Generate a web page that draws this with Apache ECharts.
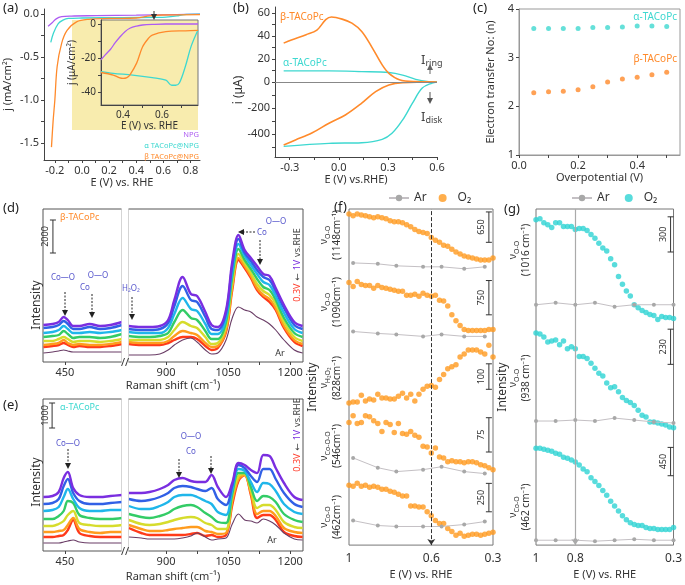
<!DOCTYPE html>
<html><head><meta charset="utf-8">
<script src="https://cdn.jsdelivr.net/npm/echarts@6.0.0/dist/echarts.min.js"></script>
<style>html,body{margin:0;padding:0;background:#fff;}#chart{width:685px;height:585px;}</style>
</head><body><div id="chart"></div>
<script>
// ================= DATA =================
// (a) LSV main
const aNPG   = [[-0.25,-0.14],[-0.22,-0.1],[-0.19,-0.055],[-0.15,-0.03],[-0.08,-0.022],[0.1,-0.018],[0.4,-0.012],[0.7,-0.005],[0.87,0]];
const aAlpha = [[-0.23,-0.33],[-0.21,-0.22],[-0.175,-0.11],[-0.14,-0.07],[-0.1,-0.05],[0,-0.045],[0.3,-0.04],[0.55,-0.038],[0.62,-0.035],[0.7,-0.02],[0.75,-0.005],[0.87,0]];
const aBeta  = [[-0.225,-1.55],[-0.213,-1.25],[-0.2,-1.0],[-0.183,-0.61],[-0.15,-0.34],[-0.11,-0.19],[-0.04,-0.09],[0.05,-0.06],[0.2,-0.05],[0.4,-0.045],[0.5,-0.02],[0.6,-0.01],[0.87,-0.005]];
// (a) inset
const aInNPG   = [[0.287,-21],[0.31,-18],[0.335,-15],[0.36,-11],[0.385,-7.5],[0.41,-4.5],[0.435,-2.5],[0.47,-1.2],[0.5,-0.6],[0.56,-0.2],[0.62,0],[0.785,0]];
const aInAlpha = [[0.287,-28],[0.35,-29],[0.45,-30],[0.55,-31.5],[0.62,-33],[0.65,-36],[0.67,-36],[0.69,-34.5],[0.72,-25],[0.75,-13],[0.785,-3.5]];
const aInBeta  = [[0.287,-28.5],[0.35,-30],[0.38,-31.5],[0.4,-32],[0.42,-31.5],[0.435,-30],[0.47,-23],[0.5,-13.5],[0.53,-8.5],[0.55,-6.5],[0.62,-4.5],[0.72,-4],[0.785,-3.8]];
// (b) RRDE
const bRingBeta  = [[-0.337,33.7],[-0.29,36.5],[-0.2,41],[-0.134,45],[-0.08,54],[-0.045,56.3],[0.02,54.5],[0.08,51],[0.14,43.8],[0.2,30.7],[0.265,14.8],[0.306,7.5],[0.37,2],[0.47,0.3],[0.6,0]];
const bRingAlpha = [[-0.337,9.6],[-0.06,9.6],[0.14,9],[0.306,8.2],[0.39,6],[0.47,2.3],[0.55,0.3],[0.6,0]];
const bDiskBeta  = [[-0.337,-485],[-0.265,-446],[-0.165,-393],[-0.06,-317],[0.04,-254],[0.14,-163],[0.225,-74],[0.306,-23],[0.39,-5],[0.6,0]];
const bDiskAlpha = [[-0.337,-495],[-0.06,-472],[0.14,-467],[0.265,-441],[0.325,-395],[0.39,-292],[0.45,-163],[0.51,-47],[0.57,-8],[0.6,0]];
// (c) electron transfer number
const cX     = [0.05,0.10,0.15,0.20,0.25,0.30,0.35,0.40,0.45,0.50];
const cAlpha = [3.6,3.6,3.6,3.6,3.62,3.62,3.63,3.65,3.65,3.64];
const cBeta  = [2.28,2.3,2.31,2.34,2.4,2.5,2.56,2.6,2.65,2.7];
// (d),(e) Raman shift samples
const ramanL = [398,420,435,447,457,470,485,510,535,560,588];
const ramanR = [810,840,860,885,905,920,940,960,975,995,1010,1025,1045,1060,1075,1090,1105,1120,1135,1150,1165,1185,1210,1230];
// (d) beta-TACoPc spectra, 1V (top) -> 0.3V (bottom)
const dLeft = [
 [37,38,40,45,42,36,36,38,36,37,40],
 [34,35,37,41,38,33,33,35,33,34,37],
 [29,30,32,36,33,29,29,30,29,30,32],
 [25,26,27,31,28,24,25,25,24,25,28],
 [21,21,23,25,23,20,21,21,20,21,23],
 [17,18,19,22,19,17,18,17,17,18,20],
 [15,16,17,19,17,15,16,15,15,16,18]];
const dRight = [
 [36,35,35,36,42,62,85,68,66,50,37,35,52,100,127,112,104,96,88,86,74,57,40,36],
 [33,32,32,33,39,56,76,62,60,45,33,32,49,96,123,109,101,92,85,82,71,54,37,33],
 [30,29,29,29,34,48,64,53,51,38,28,28,44,90,118,106,97,88,80,77,66,49,33,29],
 [26,25,25,26,29,40,52,44,42,31,23,23,40,85,113,102,93,83,75,72,62,44,29,25],
 [22,22,22,22,25,32,40,36,34,25,18,19,36,79,108,99,89,78,71,67,58,40,25,21],
 [20,19,19,19,21,26,31,29,27,19,15,16,32,75,104,96,86,74,67,63,54,36,22,18],
 [18,17,17,17,19,22,25,25,23,16,12,14,30,72,102,94,84,72,65,60,52,34,20,16]];
const dArL = [9,10,11,12,11,10,10,10,10,10,10];
const dArR = [7,7,7,8,12,17,22,24,20,12,8,9,22,44,55,52,50,45,42,38,32,22,12,9];
// (e) alpha-TACoPc spectra
const eLeft = [
 [54,55,59,73,79,63,56,54,54,55,56],
 [47,48,52,65,72,58,50,47,47,48,49],
 [40,41,44,54,62,52,43,40,40,41,41],
 [32,32,35,40,50,48,36,33,32,32,33],
 [25,25,27,30,36,40,28,26,25,25,26],
 [19,19,20,21,26,33,22,19,18,19,19],
 [14,14,15,16,21,31,18,15,14,14,14]];
const eRight = [
 [58,58,59,62,66,71,73,70,69,69,76,64,54,68,88,86,81,78,96,95,83,68,54,51],
 [52,50,51,54,58,63,65,64,62,60,63,52,46,65,86,83,75,69,82,82,72,58,47,44],
 [45,42,42,45,49,54,56,56,54,50,47,39,36,61,82,80,69,59,68,67,60,47,39,37],
 [37,34,33,35,38,42,45,46,44,38,34,29,28,57,78,78,64,50,55,54,49,37,31,29],
 [31,27,26,27,29,31,33,34,33,28,26,22,22,54,75,77,61,43,46,46,41,29,24,23],
 [26,22,20,20,21,22,23,24,24,20,19,17,18,50,72,76,58,37,40,40,35,23,19,18],
 [23,18,16,16,16,16,16,17,18,15,16,14,16,46,70,76,56,33,36,36,31,19,15,14]];
const eArL = [8,8,8,9,10,11,9,8,8,8,8];
const eArR = [14,13,12,12,12,12,13,15,18,14,11,12,13,27,37,31,30,28,32,30,26,18,12,11];
// (f),(g) potentials
const P36 = [1.00,0.98,0.96,0.94,0.92,0.90,0.88,0.86,0.84,0.82,0.80,0.78,0.76,0.74,0.72,0.70,0.68,0.66,0.64,0.62,0.60,0.58,0.56,0.54,0.52,0.50,0.48,0.46,0.44,0.42,0.40,0.38,0.36,0.34,0.32,0.30];
const fArP = [0.98,0.86,0.77,0.64,0.55,0.44,0.34];
const gArP = [1.0,0.9,0.8,0.7,0.6,0.5,0.4,0.3];
// (f) beta-TACoPc band intensities (stacked rows)
const fRow1 = [338,336,338,337,336,335,334,335,334,333,331,330,330,329,327,325,322,320,319,318,314,311,309,306,305,302,299,297,295,294,293,292,291,291,291,293];
const fRow2 = [268,264,269,266,265,265,262,265,263,262,261,260,259,259,255,255,256,254,257,255,254,255,250,249,244,235,229,224,220,219,219,219,219,219,220,220];
const fRow3 = [145,146,146,153,147,149,148,154,150,150,149,149,152,155,150,154,147,154,159,162,163,161,169,174,180,182,184,192,195,199,199,199,197,195,204,192];
const fRow4 = [125,132,124,125,132,131,127,124,116,125,123,115,124,114,113,116,112,110,101,100,94,99,90,89,85,86,85,85,84,85,85,84,82,81,79,77];
const fRow5 = [61,60,63,60,61,59,60,59,57,57,55,54,52,50,50,40,40,39,39,34,30,25,22,22,17,14,10,12,9,10,11,11,10,11,12,13];
const fAr1 = [288,287,285,284,284,282,284];
const fAr2 = [218,216,215,213,215,213,213];
const fAr4 = [89,79,75,77,80,75,73];
const fAr5 = [25,20,19,19,19,21,24];
// (g) alpha-TACoPc band intensities
const gRow1 = [333,334,330,328,325,330,330,326,326,326,323,324,324,322,318,314,309,304,301,293,287,275,267,260,255,246,243,240,238,236,235,231,234,233,233,232];
const gRow2 = [217,216,213,208,209,210,205,209,201,203,201,193,193,191,186,181,176,173,166,161,162,157,151,148,146,143,138,133,131,126,126,125,124,123,121,120];
const gRow3 = [99,99,98,97,96,94,93,90,89,87,85,82,78,75,69,65,61,56,51,45,40,35,30,26,23,21,20,20,18,17,17,16,16,16,16,18];
const gAr1 = [246,248,246,248,244,246,246,246];
const gAr2 = [127,127,128,127,130,128,126,125];
const gAr3 = [5,5,5,4,5,6,5,5];
// scale bars [x, y0, y1] and labels
const fBars = [[0.32,309,340],[0.32,235,270],[0.32,159,185],[0.32,95,130],[0.32,34,63]];
const fBarLabels = ['650','750','100','75','250'];
const gBars = [[0.315,300,336],[0.315,185,221],[0.315,71,100]];
const gBarLabels = ['300','230','450'];
const dBars = [[421,109,142]]; const dBarLabels = ['2000'];
const eBars = [[419,123,148]]; const eBarLabels = ['1000'];
// row labels
const fRowLabels = [['O-O','(1148cm⁻¹)',235],['O-O','(1090cm⁻¹)',302],['H₂O₂','(828cm⁻¹)',378],['Co-O-O','(546cm⁻¹)',446],['Co-O','(462cm⁻¹)',517]];
const gRowLabels = [['O-O','(1016 cm⁻¹)',250],['O-O','(938 cm⁻¹)',378],['Co-O','(462 cm⁻¹)',507]];

// ================= STYLE =================
const FONT = '"Noto Sans", "DejaVu Sans", sans-serif';
const TXT = '#333';
const PURPLE = '#ad5cf2', CYAN = '#3ed8d0', ORANGE = '#ff8a2b', ANN = '#5656cc';
const specColors = ['#7a2ee0','#3160e6','#1fb6ea','#33cc66','#d6dc2c','#ff9c1e','#ff3a1a'];

function merge(a,b){ const o = Object.assign({},a); for (const k in b){ const v=b[k]; if (v && typeof v==='object' && !Array.isArray(v) && a[k] && typeof a[k]==='object' && !Array.isArray(a[k])) o[k]=merge(a[k],v); else o[k]=v; } return o; }
const baseAx = {type:'value', splitLine:{show:false}, axisLine:{show:true,onZero:false,lineStyle:{color:'#444',width:1}},
  axisTick:{show:true,length:3,lineStyle:{color:'#444'}}, axisLabel:{color:TXT,fontSize:11,fontFamily:FONT,margin:5},
  nameTextStyle:{color:TXT,fontSize:11,fontFamily:FONT}};
const ax = o => merge(baseAx,o);
const f1 = v => v.toFixed(1);
const plain = v => String(v);

const xAxis = [
 ax({gridIndex:0, min:-0.28, max:0.87, axisLabel:{customValues:[-0.2,0,0.2,0.4,0.6,0.8], formatter:f1}, axisTick:{customValues:[-0.2,-0.1,0,0.1,0.2,0.3,0.4,0.5,0.6,0.7,0.8]}, name:'E (V) vs. RHE', nameLocation:'middle', nameGap:17}),
 ax({gridIndex:1, z:6, min:0.287, max:0.785, axisLabel:{customValues:[0.4,0.6], formatter:f1, fontSize:10}, axisTick:{customValues:[0.4,0.5,0.6,0.7]}, name:'E (V) vs. RHE', nameLocation:'middle', nameGap:14, nameTextStyle:{fontSize:10}}),
 ax({gridIndex:2, min:-0.39, max:0.6, show:false}),
 ax({gridIndex:3, min:-0.39, max:0.6, axisLabel:{customValues:[-0.3,0,0.3,0.6], formatter:f1}, axisTick:{customValues:[-0.3,-0.15,0,0.15,0.3,0.45,0.6]}, name:'E (V) vs.RHE)', nameLocation:'middle', nameGap:17}),
 ax({gridIndex:4, min:0, max:0.545, axisLine:{lineStyle:{color:'#999'}}, axisLabel:{customValues:[0,0.2,0.4], formatter:f1}, axisTick:{customValues:[0,0.1,0.2,0.3,0.4,0.5]}, name:'Overpotential (V)', nameLocation:'middle', nameGap:17}),
 ax({gridIndex:5, min:397, max:588, axisLine:{show:false}, axisLabel:{customValues:[450], formatter:plain}, axisTick:{customValues:[450]}}),
 ax({gridIndex:6, min:808, max:1231, axisLine:{show:false}, axisLabel:{customValues:[900,1050,1200], formatter:plain}, axisTick:{customValues:[900,975,1050,1125,1200]}}),
 ax({gridIndex:7, min:397, max:588, axisLine:{show:false}, axisLabel:{customValues:[450], formatter:plain}, axisTick:{customValues:[450]}}),
 ax({gridIndex:8, min:808, max:1231, axisLine:{show:false}, axisLabel:{customValues:[900,1050,1200], formatter:plain}, axisTick:{customValues:[900,975,1050,1125,1200]}}),
 ax({gridIndex:9, min:0.3, max:1, inverse:true, axisLine:{show:false}, axisTick:{show:false}, axisLabel:{customValues:[1,0.6,0.3], formatter:v=>v===1?'1':f1(v), fontSize:12, margin:7}, name:'E (V) vs. RHE', nameLocation:'middle', nameGap:19}),
 ax({gridIndex:10, min:0.3, max:1, inverse:true, axisLine:{show:false}, axisTick:{show:false}, axisLabel:{customValues:[1,0.8,0.3], formatter:v=>v===1?'1':f1(v), fontSize:12, margin:7}, name:'E (V) vs. RHE', nameLocation:'middle', nameGap:19})
];
const yAxis = [
 ax({gridIndex:0, min:-1.7, max:0.06, axisLabel:{customValues:[0,-0.5,-1,-1.5], formatter:f1}, axisTick:{customValues:[0,-0.25,-0.5,-0.75,-1,-1.25,-1.5]}, name:'j (mA/cm²)', nameLocation:'middle', nameGap:31}),
 ax({gridIndex:1, z:6, min:-47.6, max:2.35, axisLabel:{customValues:[0,-20,-40], fontSize:10}, axisTick:{customValues:[0,-10,-20,-30,-40]}, name:'j (μA/cm²)', nameLocation:'middle', nameGap:20, nameTextStyle:{fontSize:10}}),
 ax({gridIndex:2, min:0, max:65, axisLabel:{customValues:[0,20,40,60]}, axisTick:{customValues:[0,10,20,30,40,50,60]}}),
 ax({gridIndex:3, min:-577, max:0, axisLabel:{customValues:[-200,-400]}, axisTick:{customValues:[-100,-200,-300,-400,-500]}}),
 ax({gridIndex:4, min:1, max:4, interval:1, axisLine:{lineStyle:{color:'#999'}}, name:'Electron transfer No: (n)', nameLocation:'middle', nameGap:23}),
 {gridIndex:5, type:'value', min:0, max:153, show:false},
 {gridIndex:6, type:'value', min:0, max:153, show:false},
 {gridIndex:7, type:'value', min:0, max:152, show:false},
 {gridIndex:8, type:'value', min:0, max:152, show:false},
 {gridIndex:9, type:'value', min:0, max:343, show:false},
 {gridIndex:10, type:'value', min:0, max:344, show:false}
];
const grid = [
 {left:44, top:9, width:156, height:151},
 {left:101, top:20, width:97, height:85, show:true, borderColor:'#777', borderWidth:1, z:5},
 {left:275, top:7, width:162, height:75},
 {left:275, top:82, width:162, height:75},
 {left:519, top:9, width:161, height:146, show:true, borderColor:'#999'},
 {left:43, top:209, width:79, height:153, show:true, borderColor:'#555'},
 {left:128, top:209, width:175, height:153, show:true, borderColor:'#555'},
 {left:43, top:399, width:79, height:152, show:true, borderColor:'#555'},
 {left:128, top:399, width:175, height:152, show:true, borderColor:'#555'},
 {left:349, top:209, width:144, height:343, show:true, borderColor:'#777'},
 {left:536, top:209, width:144, height:344, show:true, borderColor:'#777'}
];

// ================= SERIES =================
const series = [];
function ln(xi, data, color, w, extra){ return Object.assign({type:'line', xAxisIndex:xi, yAxisIndex:xi, data, smooth:0.35, showSymbol:false, silent:true, lineStyle:{color, width:w||1.4}, itemStyle:{color}}, extra||{}); }
// (a)
series.push(ln(0,aNPG,PURPLE,1.3), ln(0,aAlpha,CYAN,1.3), ln(0,aBeta,ORANGE,1.3));
series.push(ln(1,aInNPG,PURPLE,1.3,{z:7}), ln(1,aInAlpha,CYAN,1.3,{z:7}), ln(1,aInBeta,ORANGE,1.3,{z:7}));
// (b)
series.push(ln(2,bRingAlpha,CYAN,1.4), ln(2,bRingBeta,ORANGE,1.6,{markLine:{silent:true,symbol:'none',label:{show:false},lineStyle:{color:'#888',type:'solid',width:1},data:[{yAxis:0}]}}));
series.push(ln(3,bDiskAlpha,CYAN,1.4), ln(3,bDiskBeta,ORANGE,1.6));
// (c)
series.push({type:'scatter', xAxisIndex:4, yAxisIndex:4, data:cX.map((x,i)=>[x,cAlpha[i]]), symbolSize:5, itemStyle:{color:CYAN}, silent:true});
series.push({type:'scatter', xAxisIndex:4, yAxisIndex:4, data:cX.map((x,i)=>[x,cBeta[i]]), symbolSize:5, itemStyle:{color:ORANGE}, silent:true});
// (d),(e) spectra
function spectra(xiL, xiR, L, R, ArL, ArR){
  for (let i=L.length-1;i>=0;i--){
    series.push(ln(xiL, ramanL.map((x,j)=>[x,L[i][j]]), specColors[i], 2.4));
    series.push(ln(xiR, ramanR.map((x,j)=>[x,R[i][j]]), specColors[i], 2.4));
  }
  series.push(ln(xiL, ramanL.map((x,j)=>[x,ArL[j]]), '#6a3d66', 1.1));
  series.push(ln(xiR, ramanR.map((x,j)=>[x,ArR[j]]), '#6a3d66', 1.1));
}
spectra(5,6,dLeft,dRight,dArL,dArR);
spectra(7,8,eLeft,eRight,eArL,eArR);
// (f),(g) stacked rows
function arSeries(xi, name, P, vals){ return {name, type:'line', xAxisIndex:xi, yAxisIndex:xi, data:P.map((p,i)=>[p,vals[i]]), symbol:'circle', symbolSize:4, showSymbol:true, silent:true, lineStyle:{color:'#c4c0c4', width:1}, itemStyle:{color:'#a8a8a8'}}; }
function o2Series(xi, name, vals, color, extra){ return Object.assign({name, type:'scatter', xAxisIndex:xi, yAxisIndex:xi, data:P36.map((p,i)=>[p,vals[i]]), symbolSize:5.5, silent:true, itemStyle:{color}}, extra||{}); }
const fMark = {markLine:{silent:true, symbol:['arrow','none'], symbolSize:6, label:{show:false}, lineStyle:{color:'#333', type:'dashed', width:1}, data:[{xAxis:0.6}]}};
const gMark = {markLine:{silent:true, symbol:['arrow','none'], symbolSize:6, label:{show:false}, lineStyle:{color:'#aaa', type:'solid', width:1.2}, data:[{xAxis:0.8}]}};
[fAr1,fAr2,fAr4,fAr5].forEach(a=>series.push(arSeries(9,'Ar',fArP,a)));
[fRow1,fRow2,fRow3,fRow4,fRow5].forEach((r,i)=>series.push(o2Series(9,'O₂',r,'#ff9a1f', i===0?fMark:null)));
[gAr1,gAr2,gAr3].forEach(a=>series.push(arSeries(10,'Ar ',gArP,a)));
[gRow1,gRow2,gRow3].forEach((r,i)=>series.push(o2Series(10,'O₂ ',r,'#2ed3d3', i===0?gMark:null)));
// scale bars
function bars(xi, data, labels){
  return {type:'custom', xAxisIndex:xi, yAxisIndex:xi, data, silent:true, z:6,
    renderItem:(params, api)=>{
      const a = api.coord([api.value(0), api.value(1)]);
      const b = api.coord([api.value(0), api.value(2)]);
      const c = '#333';
      return {type:'group', children:[
        {type:'line', shape:{x1:a[0],y1:a[1],x2:b[0],y2:b[1]}, style:{stroke:c,lineWidth:1}},
        {type:'line', shape:{x1:a[0]-3,y1:a[1],x2:a[0]+3,y2:a[1]}, style:{stroke:c,lineWidth:1}},
        {type:'line', shape:{x1:b[0]-3,y1:b[1],x2:b[0]+3,y2:b[1]}, style:{stroke:c,lineWidth:1}},
        {type:'text', x:a[0]-7, y:(a[1]+b[1])/2, rotation:Math.PI/2, style:{text:labels[params.dataIndex], align:'center', verticalAlign:'middle', fontSize:9, fill:'#333', fontFamily:FONT}}
      ]};
    }};
}
series.push(bars(9,fBars,fBarLabels), bars(10,gBars,gBarLabels), bars(5,dBars,dBarLabels), bars(7,eBars,eBarLabels));

// ================= ANNOTATIONS =================
const G = [];
function T(x,y,text,o){ o=o||{}; G.push({type:'text', x, y, rotation:o.rot||0, z:100, silent:true,
  style:{text, align:o.align||'center', verticalAlign:o.va||'middle', fontSize:o.fs||11, fontFamily:FONT, fill:o.color||TXT, rich:o.rich}}); }
function arrowV(x,y1,y2,color,dash){ const d=y2>y1?1:-1; const s={stroke:color,lineWidth:1}; if(dash) s.lineDash=[2,1.5];
  G.push({type:'line', z:100, silent:true, shape:{x1:x,y1:y1,x2:x,y2:y2-d*4}, style:s});
  G.push({type:'polygon', z:100, silent:true, shape:{points:[[x-3,y2-d*6],[x+3,y2-d*6],[x,y2]]}, style:{fill:color}}); }
function arrowH(x1,x2,y,color,dash){ const d=x2>x1?1:-1; const s={stroke:color,lineWidth:1}; if(dash) s.lineDash=[2,1.5];
  G.push({type:'line', z:100, silent:true, shape:{x1:x1,y1:y,x2:x2-d*4,y2:y}, style:s});
  G.push({type:'polygon', z:100, silent:true, shape:{points:[[x2-d*6,y-3],[x2-d*6,y+3],[x2,y]]}, style:{fill:color}}); }
// inset yellow box (a)
G.push({type:'rect', z:3, silent:true, shape:{x:72,y:20,width:126,height:110}, style:{fill:'#f8ecae'}});
// panel letters
[['(a)',3,8],['(b)',233,8],['(c)',473,8],['(d)',3,208],['(e)',3,405],['(f)',334,207],['(g)',504,209]].forEach(p=>T(p[1],p[2],p[0],{align:'left',fs:13,color:'#222'}));
// (a) legend text + arrow
T(199,135,'NPG',{align:'right',fs:7.5,color:PURPLE});
T(199,146,'α TACoPc@NPG',{align:'right',fs:7.5,color:CYAN});
T(199,157,'β TACoPc@NPG',{align:'right',fs:7.5,color:ORANGE});
arrowV(154,11,20,'#333',false);
// (b)
T(239,90,'i (μA)',{rot:Math.PI/2,fs:12});
T(280,17,'β-TACoPc',{align:'left',fs:10,color:ORANGE});
T(283,63,'α-TACoPc',{align:'left',fs:10,color:CYAN});
const RI = {i:{fontSize:13,fill:'#444',fontFamily:FONT}, s:{fontSize:9,fill:'#444',fontFamily:FONT,verticalAlign:'bottom',padding:[7,0,0,0]}};
T(421,60,'{i|I}{s|ring}',{align:'left',rich:RI});
T(421,117,'{i|I}{s|disk}',{align:'left',rich:RI});
arrowV(430,74,64,'#666',false);
arrowV(430,92,104,'#555',false);
// (c)
T(677,17,'α-TACoPc',{align:'right',fs:10,color:CYAN});
T(677,59,'β-TACoPc',{align:'right',fs:10,color:ORANGE});
// (d)
T(60,217,'β-TACoPc',{align:'left',fs:9,color:ORANGE});
T(37,305,'Intensity',{rot:Math.PI/2,fs:12});
T(63,278,'Co—O',{fs:8,color:ANN});
T(98,276,'O—O',{fs:8,color:ANN}); T(85,288,'Co',{fs:8,color:ANN});
T(131,289,'H₂O₂',{fs:8,color:ANN});
arrowV(65,292,316,'#222',true); arrowV(92,294,318,'#222',true); arrowV(132,297,320,'#222',true);
T(276,222,'O—O',{fs:8,color:ANN}); T(262,233,'Co',{fs:8,color:ANN});
arrowH(255,238,232,'#222',true); arrowV(260,240,265,'#222',true);
const RV = {r:{fontSize:9,fill:'#ff3b2a',fontFamily:FONT}, p:{fontSize:9,fill:'#7a2ee0',fontFamily:FONT}, k:{fontSize:9,fill:'#444',fontFamily:FONT}};
T(297,265,'{r|0.3V} {k|←} {p|1V} {k|vs.RHE}',{rot:Math.PI/2,rich:RV});
T(280,353,'Ar',{fs:9});
T(125,363,'//',{fs:11,color:'#333'});
T(173,386,'Raman shift (cm⁻¹)',{fs:11});
// (e)
T(60,407,'α-TACoPc',{align:'left',fs:9,color:CYAN});
T(37,482,'Intensity',{rot:Math.PI/2,fs:12});
T(68,444,'Co—O',{fs:8,color:ANN}); arrowV(68,449,469,'#222',true);
T(191,437,'O—O',{fs:8,color:ANN}); T(191,452,'Co',{fs:8,color:ANN});
arrowV(179,459,478,'#222',true); arrowV(211,456,474,'#222',true);
T(297,435,'{r|0.3V} {k|←} {p|1V} {k|vs.RHE}',{rot:Math.PI/2,rich:RV});
T(272,540,'Ar',{fs:9});
T(125,552,'//',{fs:11,color:'#333'});
T(173,577,'Raman shift (cm⁻¹)',{fs:11});
// break gaps
G.push({type:'rect', z:90, silent:true, shape:{x:121.5,y:204,width:7,height:163}, style:{fill:'#fff'}});
G.push({type:'rect', z:90, silent:true, shape:{x:121.5,y:394,width:7,height:162}, style:{fill:'#fff'}});
// (f),(g) labels
const RR = {n:{fontSize:10,fill:TXT,fontFamily:FONT,lineHeight:13}, s:{fontSize:7,fill:TXT,fontFamily:FONT,lineHeight:13,verticalAlign:'bottom',padding:[5,0,0,0]}};
T(313,387,'Intensity',{rot:Math.PI/2,fs:12});
fRowLabels.forEach(r=>T(331,r[2],'{n|ν}{s|'+r[0]+'}\n{n|'+r[1]+'}',{rot:Math.PI/2,rich:RR}));
T(503,387,'Intensity',{rot:Math.PI/2,fs:12});
gRowLabels.forEach(r=>T(520,r[2],'{n|ν}{s|'+r[0]+'}\n{n|'+r[1]+'}',{rot:Math.PI/2,rich:RR}));

// ================= CHART =================
const chart = echarts.init(document.getElementById('chart'), null, {renderer:'canvas'});
chart.setOption({
  animation:false, backgroundColor:'#fff', textStyle:{fontFamily:FONT},
  grid, xAxis, yAxis, series, graphic:G,
  legend:[
    {data:['Ar','O₂'], left:383, top:187, itemWidth:20, itemHeight:8, itemGap:12, textStyle:{fontSize:12,color:TXT,fontFamily:FONT}, selectedMode:false},
    {data:['Ar ','O₂ '], left:566, top:187, itemWidth:20, itemHeight:8, itemGap:12, textStyle:{fontSize:12,color:TXT,fontFamily:FONT}, selectedMode:false}
  ]
});
</script></body></html>
